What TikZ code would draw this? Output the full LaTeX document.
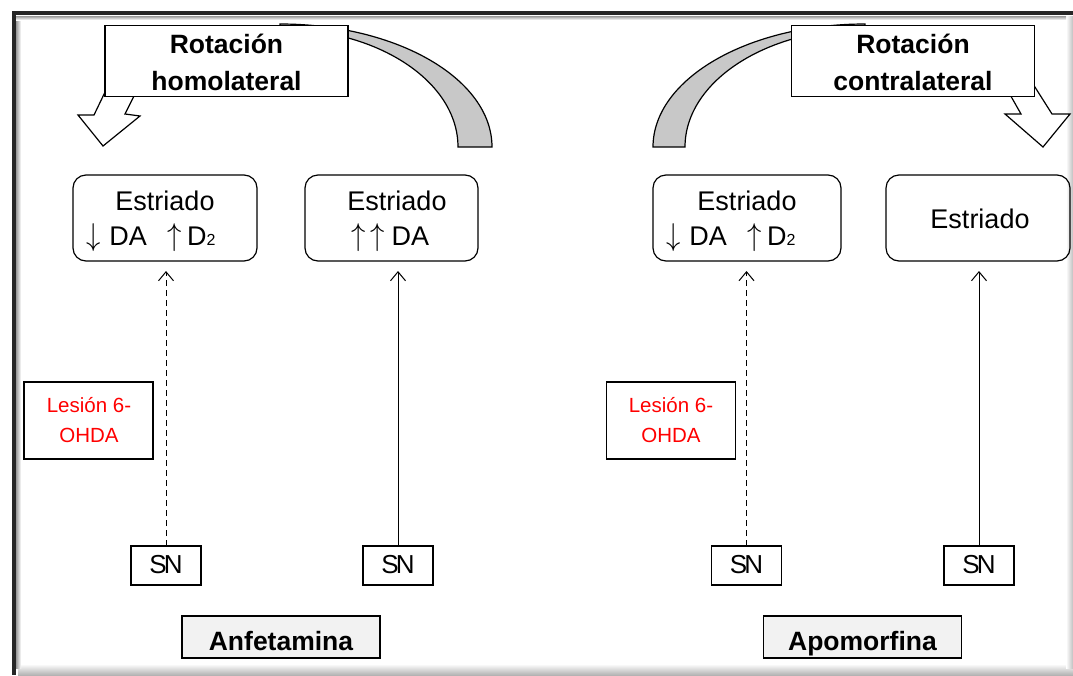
\documentclass[tikz,border=0pt]{standalone}
\usepackage{fontspec}
\usepackage{graphicx}
\setmainfont{Liberation Sans}
\usetikzlibrary{arrows.meta}
\definecolor{arcgray}{RGB}{200,200,200}
\definecolor{labelfill}{RGB}{242,242,242}
\definecolor{lesred}{RGB}{255,0,0}
\newcommand{\bigup}{\scalebox{1.15}[1.27]{$\uparrow$}}
\newcommand{\bigdown}{\scalebox{1.15}[1.27]{$\downarrow$}}
\newcommand{\subtwo}{{\fontsize{16}{16}\selectfont 2}}
\begin{document}
\begin{tikzpicture}[x=1pt,y=1pt,
  every node/.style={inner sep=0pt, outer sep=0pt},
  estbox/.style={draw, line width=1.2pt, rounded corners=13pt, minimum width=184pt, minimum height=86pt},
  snbox/.style={draw, line width=1.3pt, minimum width=70pt, minimum height=39pt},
  lesbox/.style={draw, line width=1.2pt, minimum width=129pt, minimum height=77pt},
  titlebox/.style={draw, fill=white, line width=1.2pt, minimum width=243pt, minimum height=71pt},
  drugbox/.style={draw, fill=labelfill, line width=1.3pt, minimum width=198pt, minimum height=42pt},
  esttext/.style={anchor=base, font=\fontsize{27}{27}\selectfont},
  titletext/.style={anchor=base, font=\bfseries\fontsize{26.5}{26.5}\selectfont},
  lestext/.style={anchor=base, text=lesred, font=\fontsize{20.5}{20.5}\selectfont},
  sntext/.style={font=\fontsize{26}{26}\selectfont},
  bandshape/.style={fill=arcgray, draw, line width=1.2pt},
  blockarrow/.style={fill=white, draw, line width=1.2pt, line join=miter},
  solidconn/.style={line width=1pt, -{Straight Barb[length=9pt,width=15pt,line width=1pt]}, shorten >=10pt},
  dashconn/.style={solidconn, dash pattern=on 6pt off 4pt}
]
\useasboundingbox (0,0) rectangle (1073,-675);
% frame
\fill[white] (0,0) rectangle (1073,-675);
\shade[top color=white, bottom color=black!30] (18,-664) rectangle (1073,-675);
\shade[left color=white, right color=black!25] (1066,-16) rectangle (1073,-668);
\shade[left color=black!40, right color=white] (16,-16) rectangle (21,-668);
\shade[top color=black!40, bottom color=white] (16,-16) rectangle (1066,-20);
\draw[line width=4pt, black!85] (12,-13) -- (1073,-13);
\draw[line width=4pt, black!85] (14,-11) -- (14,-675);

% curved bands
\draw[bandshape] (492,-147) arc[start angle=0, end angle=90, x radius=212pt, y radius=123pt]
  -- (280,-29) arc[start angle=90, end angle=0, x radius=178pt, y radius=118pt] -- cycle;
\draw[bandshape] (653,-147) arc[start angle=180, end angle=90, x radius=212pt, y radius=123pt]
  -- (865,-29) arc[start angle=90, end angle=180, x radius=180pt, y radius=118pt] -- cycle;

% block arrows
\draw[blockarrow] (107,-88) -- (94,-115) -- (78,-115) -- (103,-146) -- (140,-116) -- (125,-114) -- (138,-88) -- cycle;
\draw[blockarrow] (1004,-84) -- (1021,-114) -- (1005,-114) -- (1043,-147) -- (1070,-114) -- (1052,-114) -- (1033,-84) -- cycle;

% title boxes
\node[titlebox] (tit1) at (226.5,-61) {};
\node[titletext] (tit1a) at (226.5,-53) {Rotación};
\node[titletext] (tit1b) at (226.5,-90) {homolateral};
\node[titlebox] (tit2) at (913,-61) {};
\node[titletext] (tit2a) at (913,-53) {Rotación};
\node[titletext] (tit2b) at (913,-90) {contralateral};

% Estriado boxes
\node[estbox] (est1) at (165,-218) {};
\node[estbox, minimum width=173pt] (est2) at (391.5,-218) {};
\node[estbox, minimum width=188pt] (est3) at (747,-218) {};
\node[estbox] (est4) at (978,-218) {};

\node[esttext] (e1a) at (165,-210) {Estriado};
\node[esttext, anchor=base west] (e1b) at (86,-245) {\bigdown\kern9pt DA\hspace{21pt}\bigup\kern5pt D\subtwo};
\node[esttext] (e2a) at (397,-210) {Estriado};
\node[esttext, anchor=base west] (e2b) at (351,-245) {\bigup\kern5pt\bigup\kern7pt DA};
\node[esttext] (e3a) at (747,-210) {Estriado};
\node[esttext, anchor=base west] (e3b) at (666,-245) {\bigdown\kern9pt DA\hspace{21pt}\bigup\kern5pt D\subtwo};
\node[esttext] (e4a) at (980,-228) {Estriado};

% SN boxes
\node[snbox] (sn1) at (166,-565.5) {};
\node[sntext] (sn1t) at (166,-565) {S\kern-3pt N};
\node[snbox] (sn2) at (398,-565.5) {};
\node[sntext] (sn2t) at (398,-565) {S\kern-3pt N};
\node[snbox] (sn3) at (746.5,-565.5) {};
\node[sntext] (sn3t) at (746.5,-565) {S\kern-3pt N};
\node[snbox] (sn4) at (979,-565.5) {};
\node[sntext] (sn4t) at (979,-565) {S\kern-3pt N};

% Lesion boxes
\node[lesbox] (les1) at (88.5,-420.5) {};
\node[lestext] (les1a) at (89,-412) {Lesión 6-};
\node[lestext] (les1b) at (89,-442) {OHDA};
\node[lesbox] (les2) at (671,-420.5) {};
\node[lestext] (les2a) at (671,-412) {Lesión 6-};
\node[lestext] (les2b) at (671,-442) {OHDA};

% drug labels
\node[drugbox] (drug1) at (281,-637) {};
\node[titletext] (drug1t) at (281,-650) {Anfetamina};
\node[drugbox] (drug2) at (862.5,-637) {};
\node[titletext] (drug2t) at (862.5,-650) {Apomorfina};

% connectors
\draw[dashconn] (sn1.north) -- (sn1.north |- est1.south);
\draw[solidconn] (sn2.north) -- (sn2.north |- est2.south);
\draw[dashconn] (sn3.north) -- (sn3.north |- est3.south);
\draw[solidconn] (sn4.north) -- (sn4.north |- est4.south);
\end{tikzpicture}
\end{document}
